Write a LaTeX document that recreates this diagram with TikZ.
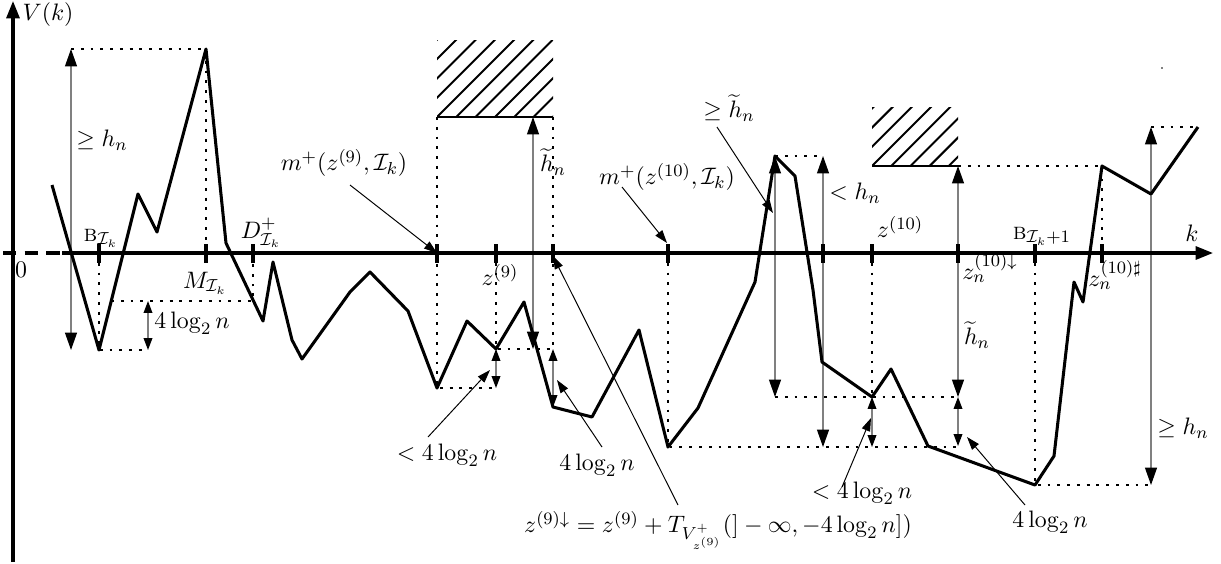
\documentclass[tikz,border=0pt]{standalone}
\usetikzlibrary{arrows.meta}
\begin{document}
\begin{tikzpicture}[x=0.46pt,y=-0.46pt,
  font=\fontsize{10.9}{13}\selectfont,
  curve/.style={line width=1.4pt, line join=round},
  axis/.style={line width=1.4pt},
  dots/.style={line width=1.3pt, dash pattern=on 1.3pt off 3.2pt},
  dim/.style={draw=gray, line width=0.6pt, {Triangle[length=8pt,width=5.5pt,color=black]}-{Triangle[length=8pt,width=5.5pt,color=black]}},
  sdim/.style={draw=gray, line width=0.6pt, {Triangle[length=5.5pt,width=4pt,color=black]}-{Triangle[length=5.5pt,width=4pt,color=black]}},
  ptr/.style={line width=0.45pt, -{Triangle[length=6pt,width=4pt]}},
  tickmark/.style={line width=1.4pt},
  hatch/.style={line width=0.9pt},
  lbl/.style={inner sep=0pt}]
\useasboundingbox (0,0) rectangle (1221,563);

% hatched regions
\begin{scope}
  \clip (437,40) rectangle (553,117);
  \foreach \i in {-5,...,6} \draw[hatch] (437+\i*19.3,117) -- ++(100,-100);
\end{scope}
\draw[hatch] (437,117) -- (553,117);
\begin{scope}
  \clip (872,107) rectangle (958,166);
  \foreach \i in {-4,...,5} \draw[hatch] (872+\i*19.2,166) -- ++(80,-80);
\end{scope}
\draw[hatch] (872,166) -- (958,166);

% dotted guides
\draw[dots] (71,49) -- (206,49) -- (206,253);
\draw[dots] (99,253) -- (99,350) -- (148,350);
\draw[dots] (111,301) -- (253,301) -- (253,253);
\draw[dots] (437,117) -- (437,388) -- (496,388);
\draw[dots] (496,253) -- (496,349) -- (553,349);
\draw[dots] (553,117) -- (553,407);
\draw[dots] (775,156) -- (823,156);
\draw[dots] (668,253) -- (668,447) -- (958,447);
\draw[dots] (775,397) -- (958,397);
\draw[dots] (872,253) -- (872,397);
\draw[dots] (958,166) -- (1102,166) -- (1102,253);
\draw[dots] (1035,253) -- (1035,485) -- (1151,485);
\draw[dots] (1151,127) -- (1198,127);

% dimension arrows
\draw[dim] (71,49) -- (71,350);
\draw[sdim] (148,301) -- (148,350);
\draw[dim] (533,117) -- (533,349);
\draw[sdim] (496,349) -- (496,388);
\draw[sdim] (553,349) -- (553,407);
\draw[dim] (775,156) -- (775,397);
\draw[dim] (823,156) -- (823,447);
\draw[sdim] (872,397) -- (872,447);
\draw[dim] (958,166) -- (958,397);
\draw[sdim] (958,397) -- (958,446);
\draw[dim] (1151,127) -- (1151,485);

% axes
\draw[axis, dashed, dash pattern=on 6pt off 4pt] (3,253) -- (62,253);
\draw[axis, -{Triangle[length=8pt,width=6pt]}] (62,253) -- (1213,253);
\draw[axis, -{Triangle[length=8pt,width=6pt]}] (13,562) -- (13,1);

% ticks
\foreach \t in {99,206,253,437,496,553,668,823,872,958,1035,1102}
  \draw[tickmark] (\t,244) -- (\t,263);

% the walk
\draw[curve] (52,185) -- (99,350) -- (138,194) -- (157,232) -- (206,49) -- (226,243)
  -- (263,321) -- (273,262) -- (292,340) -- (302,359) -- (350,292) -- (370,272)
  -- (408,311) -- (437,388) -- (467,321) -- (496,349) -- (524,302) -- (553,407)
  -- (592,417) -- (639,330) -- (668,447) -- (698,408) -- (755,282) -- (775,156)
  -- (795,176) -- (813,290) -- (822,362) -- (872,397) -- (891,369) -- (928,446)
  -- (1035,485) -- (1054,456) -- (1074,282) -- (1083,302) -- (1102,166)
  -- (1151,194) -- (1198,127);

% stray dot
\fill (1162,68) circle (0.4pt);

% labels
\node[lbl] (Vk) at (48,15) {$V(k)$};
\node[lbl] (zero) at (21,270) {$0$};
\node[lbl] (k) at (1192,233) {$k$};
\node[lbl] (BI) at (101,238) {\textsc{b}$_{\mathcal{I}_k}$};
\node[lbl] (MI) at (205,283) {$M_{\mathcal{I}_k}$};
\node[lbl] (DI) at (261,233) {$D^+_{\mathcal{I}_k}$};
\node[lbl] (z9) at (500,275) {$z^{(9)}$};
\node[lbl] (z10) at (900,227) {$z^{(10)}$};
\node[lbl] (z10d) at (990,268) {$z_n^{(10)\downarrow}$};
\node[lbl] (BI1) at (1042,236) {\textsc{b}$_{\mathcal{I}_k+1}$};
\node[lbl] (z10s) at (1115,275) {$z_n^{(10)\sharp}$};
\node[lbl] (geh1) at (102,140) {$\geq h_n$};
\node[lbl] (fl1) at (192,323) {$4\log_2 n$};
\node[lbl] (ht1) at (553,162) {$\widetilde{h}_n$};
\node[lbl] (mz9) at (344,163) {$m^+\bigl(z^{(9)},\mathcal{I}_k\bigr)$};
\node[lbl] (mz10) at (667,177) {$m^+\bigl(z^{(10)},\mathcal{I}_k\bigr)$};
\node[lbl] (geht) at (729,108) {$\geq \widetilde{h}_n$};
\node[lbl] (lth) at (855,193) {$< h_n$};
\node[lbl] (ht2) at (977,335) {$\widetilde{h}_n$};
\node[lbl] (geh2) at (1183,428) {$\geq h_n$};
\node[lbl] (lfl1) at (447,455) {$< 4\log_2 n$};
\node[lbl] (fl2) at (597,465) {$4\log_2 n$};
\node[lbl] (z9d) at (718,530) {$z^{(9)\downarrow}=z^{(9)}+T_{V^+_{z^{(9)}}}(]-\infty,-4\log_2 n])$};
\node[lbl] (lfl2) at (862,493) {$< 4\log_2 n$};
\node[lbl] (fl3) at (1050,522) {$4\log_2 n$};

% pointer arrows
\coordinate (pmz9) at (350,185);   \coordinate (tmz9) at (437,253);
\coordinate (pmz10) at (622,187);  \coordinate (tmz10) at (667,243);
\coordinate (pgeht) at (717,127);  \coordinate (tgeht) at (773,213);
\coordinate (plfl1) at (428,437);  \coordinate (tlfl1) at (490,370);
\coordinate (pfl2) at (602,447);   \coordinate (tfl2) at (557,380);
\coordinate (pz9d) at (678,505);   \coordinate (tz9d) at (553,256);
\coordinate (plfl2) at (842,487);  \coordinate (tlfl2) at (871,418);
\coordinate (pfl3) at (1025,505);  \coordinate (tfl3) at (967,437);
\draw[ptr] (pmz9) -- (tmz9);
\draw[ptr] (pmz10) -- (tmz10);
\draw[ptr] (pgeht) -- (tgeht);
\draw[ptr] (plfl1) -- (tlfl1);
\draw[ptr] (pfl2) -- (tfl2);
\draw[ptr] (pz9d) -- (tz9d);
\draw[ptr] (plfl2) -- (tlfl2);
\draw[ptr] (pfl3) -- (tfl3);
\end{tikzpicture}
\end{document}
